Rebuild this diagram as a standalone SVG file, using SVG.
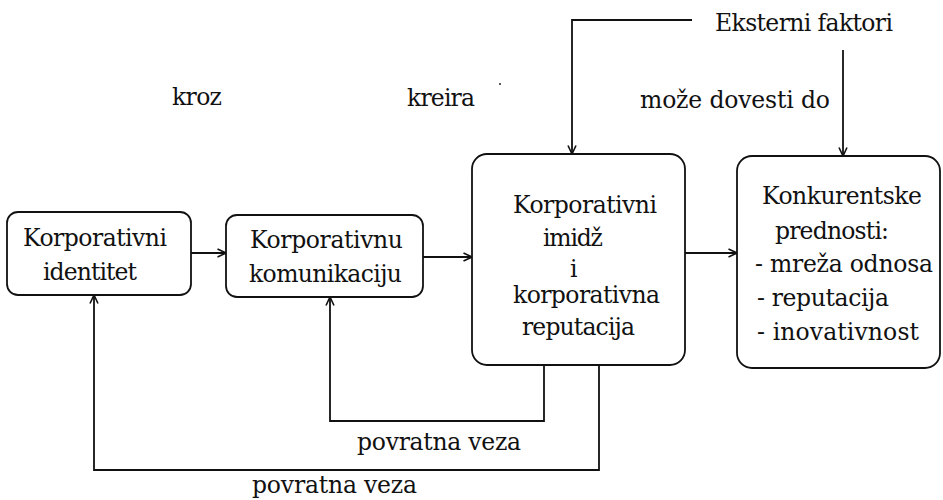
<svg xmlns="http://www.w3.org/2000/svg" width="943" height="500" viewBox="0 0 943 500">
  <style>
    .box { fill: #fff; stroke: #111; stroke-width: 1.8; }
    .wire { fill: none; stroke: #111; stroke-width: 1.8; }
    text { font-family: "DejaVu Serif", "Liberation Serif", "Noto Serif", serif; font-size: 23.5px; fill: #111; }
  </style>
  <defs>
    <marker id="arrow" viewBox="0 0 10 10" refX="9.5" refY="5" markerWidth="10" markerHeight="10" markerUnits="userSpaceOnUse" orient="auto">
      <path d="M1,1 L9.5,5 L1,9" fill="none" stroke="#111" stroke-width="1.6"/>
    </marker>
  </defs>

  <rect width="943" height="500" fill="#fff"/>

  <!-- free-standing labels -->
  <g id="labels">
    <text x="172" y="105" textLength="50">kroz</text>
    <text x="407" y="106" textLength="68">kreira</text>
    <circle cx="500" cy="84" r="0.9" fill="#111"/>
    <text x="715" y="31" textLength="178">Eksterni faktori</text>
    <text x="640" y="108" textLength="190">može dovesti do</text>
    <text x="357" y="450" textLength="164">povratna veza</text>
    <text x="252" y="493" textLength="165">povratna veza</text>
  </g>

  <!-- connectors -->
  <g id="connectors">
    <path class="wire" d="M191,253 H226" marker-end="url(#arrow)"/>
    <path class="wire" d="M423,257 H472" marker-end="url(#arrow)"/>
    <path class="wire" d="M685,253 H737" marker-end="url(#arrow)"/>
    <path class="wire" d="M692,20 H572 V154" marker-end="url(#arrow)"/>
    <path class="wire" d="M843,50 V156" marker-end="url(#arrow)"/>
    <path class="wire" d="M544,365 V421 H330 V297" marker-end="url(#arrow)"/>
    <path class="wire" d="M599,365 V470 H94 V295" marker-end="url(#arrow)"/>
  </g>

  <g id="identitet">
    <rect class="box" x="7" y="212" width="184" height="83" rx="11"/>
    <text x="23" y="246" textLength="144">Korporativni</text>
    <text x="43" y="280" textLength="94">identitet</text>
  </g>

  <g id="komunikacija">
    <rect class="box" x="226" y="215" width="197" height="82" rx="11"/>
    <text x="250" y="248" textLength="153">Korporativnu</text>
    <text x="249" y="282" textLength="153">komunikaciju</text>
  </g>

  <g id="imidz">
    <rect class="box" x="472" y="154" width="213" height="211" rx="15"/>
    <text x="513" y="213" textLength="144">Korporativni</text>
    <text x="543" y="246" textLength="60">imidž</text>
    <text x="570" y="277">i</text>
    <text x="513" y="303" textLength="147">korporativna</text>
    <text x="522" y="335" textLength="113">reputacija</text>
  </g>

  <g id="prednosti">
    <rect class="box" x="737" y="156" width="203" height="212" rx="15"/>
    <text x="762" y="204" textLength="160">Konkurentske</text>
    <text x="775" y="239" textLength="114">prednosti:</text>
    <text x="755" y="272" textLength="178">- mreža odnosa</text>
    <text x="757" y="306" textLength="132">- reputacija</text>
    <text x="757" y="340" textLength="162">- inovativnost</text>
  </g>
</svg>
